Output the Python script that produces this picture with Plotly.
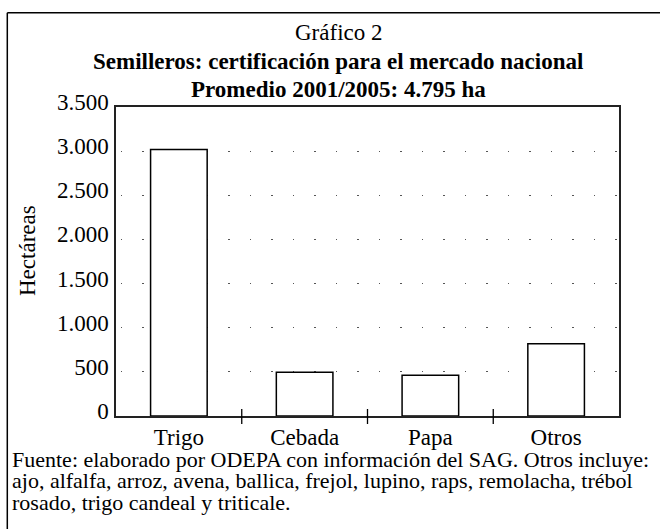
import plotly.graph_objects as go

# ---- data ----
categories = ["Trigo", "Cebada", "Papa", "Otros"]
hectareas = [3020, 495, 462, 818]
y_ticks = [0, 500, 1000, 1500, 2000, 2500, 3000, 3500]

title_top = "Gráfico 2"
title_1 = "<b>Semilleros: certificación para el mercado nacional</b>"
title_2 = "<b>Promedio 2001/2005: 4.795 ha</b>"
y_title = "Hectáreas"
footer_lines = [
    "Fuente: elaborado por ODEPA con información del SAG. Otros incluye:",
    "ajo, alfalfa, arroz, avena, ballica, frejol, lupino, raps, remolacha, trébol",
    "rosado, trigo candeal y triticale.",
]

# ---- layout geometry (pixels) ----
W, H = 660, 529
L, R, T, B = 116, 41, 107, 113
PW, PH = W - L - R, H - T - B
FONT = "Liberation Serif, Tinos, Times New Roman, DejaVu Serif, serif"


def px(x):
    return (x - L) / PW


def py(y):
    return (H - B - y) / PH


fig = go.Figure(
    go.Bar(
        x=categories,
        y=hectareas,
        marker=dict(color="white", line=dict(color="black", width=1.5)),
        hoverinfo="skip",
    )
)

fig.update_layout(
    width=W,
    height=H,
    margin=dict(l=L, r=R, t=T, b=B, pad=0),
    paper_bgcolor="white",
    plot_bgcolor="white",
    showlegend=False,
    bargap=0.55,
    separators=",.",
    font=dict(family=FONT, size=23, color="black"),
)

fig.update_xaxes(
    showline=True,
    linecolor="#222",
    linewidth=1.5,
    mirror=True,
    ticks="",
    ticklen=0,
    showgrid=False,
    tickfont=dict(family=FONT, size=23),
    ticklabelstandoff=0,
)
fig.update_yaxes(
    range=[0, 3500],
    tickvals=y_ticks,
    tickformat=",.0f",
    showline=True,
    linecolor="#222",
    linewidth=1.5,
    mirror=True,
    ticks="",
    ticklen=0,
    zeroline=False,
    showgrid=True,
    gridcolor="#555",
    gridwidth=1.3,
    griddash="0px,4.7px,1.3px,15.5px",
    tickfont=dict(family=FONT, size=23),
    ticklabelstandoff=1,
    ticklabelshift=-5,
)

shapes = []
# category boundary ticks crossing the axis
for i in range(len(categories) - 1):
    shapes.append(dict(type="line", xref="x", yref="paper",
                       x0=i + 0.5, x1=i + 0.5, y0=py(424), y1=py(409),
                       line=dict(color="black", width=1.3)))
# outer frame (top and left edges; right/bottom fall outside the picture)
shapes.append(dict(type="line", xref="paper", yref="paper",
                   x0=px(7.3), x1=px(700), y0=py(12.7), y1=py(12.7),
                   line=dict(color="black", width=1.5)))
shapes.append(dict(type="line", xref="paper", yref="paper",
                   x0=px(7.3), x1=px(7.3), y0=py(12.7), y1=py(560),
                   line=dict(color="black", width=1.5)))
fig.update_layout(shapes=shapes)

ann = []
ann.append(dict(text=title_top, x=px(338.5), y=py(33), font=dict(size=23)))
ann.append(dict(text=title_1, x=px(338), y=py(61), font=dict(size=23)))
ann.append(dict(text=title_2, x=px(338), y=py(89), font=dict(size=23)))
ann.append(dict(text=y_title, x=px(27), y=py(251), textangle=-90, font=dict(size=23)))
footer_y = [459, 480.5, 502]
for line, yy in zip(footer_lines, footer_y):
    ann.append(dict(text=line, x=px(10), y=py(yy), xanchor="left", font=dict(size=22)))
for a in ann:
    a.update(xref="paper", yref="paper", showarrow=False)
    a["font"]["family"] = FONT
    a.setdefault("xanchor", "center")
    a.setdefault("yanchor", "middle")
fig.update_layout(annotations=ann)

fig.write_html(
    "out.html",
    config={"displayModeBar": False},
    post_script="document.body.style.margin='0';document.body.style.overflow='hidden';",
)
